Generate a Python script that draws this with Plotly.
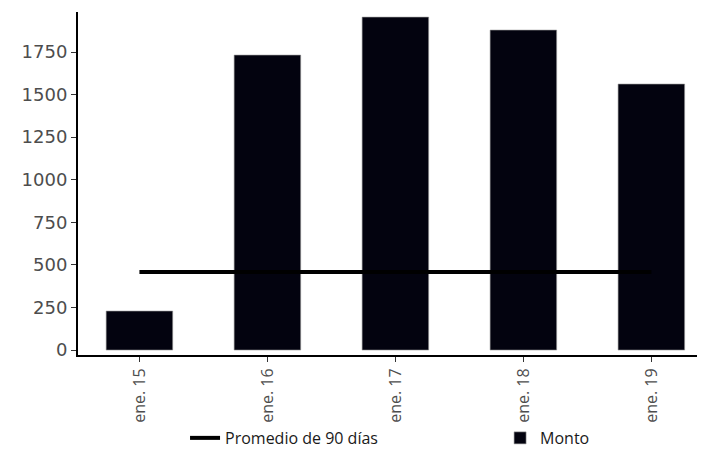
import plotly.graph_objects as go

# datos
fechas = ['ene. 15', 'ene. 16', 'ene. 17', 'ene. 18', 'ene. 19']
monto = [229, 1732, 1955, 1879, 1562]
promedio_90 = [458, 458, 458, 458, 458]

fig = go.Figure()

# barras de monto
fig.add_trace(go.Bar(
    x=fechas,
    y=monto,
    name='Monto',
    marker=dict(color='#03030f', line=dict(color='#9a9a9a', width=0.6)),
    width=0.52,
    legend='legend2'
))

# linea del promedio (encima de las barras)
fig.add_trace(go.Scatter(
    x=fechas,
    y=promedio_90,
    name='Promedio de 90 días',
    mode='lines',
    line=dict(color='black', width=4),
    legend='legend'
))

leyenda = dict(
    orientation='h',
    xref='container',
    yref='container',
    xanchor='left',
    y=0.025,
    yanchor='middle',
    bgcolor='rgba(0,0,0,0)',
    font=dict(family='Open Sans', size=16, color='#1a1a1a')
)

# la pagina tiene 8px de margen en el body, se compensa aqui
fig.update_layout(
    width=697,
    height=441,
    plot_bgcolor='white',
    paper_bgcolor='white',
    margin=dict(l=70, r=5, t=4, b=94),
    showlegend=True,
    legend=dict(leyenda, x=0.254),
    legend2=dict(leyenda, x=0.706),
    xaxis=dict(
        type='category',
        range=[-0.48, 4.38],
        automargin=False,
        showline=True,
        linecolor='black',
        linewidth=2,
        ticks='outside',
        ticklen=5,
        tickcolor='#333333',
        tickangle=-90,
        tickfont=dict(family='Open Sans', size=16, color='#4d4d4d'),
        showgrid=False
    ),
    yaxis=dict(
        range=[-29, 1985],
        automargin=False,
        tickvals=[0, 250, 500, 750, 1000, 1250, 1500, 1750],
        showline=True,
        linecolor='black',
        linewidth=2,
        ticks='outside',
        ticklen=5,
        tickcolor='#333333',
        tickfont=dict(family='DejaVu Sans', size=18, color='#4d4d4d'),
        showgrid=False,
        zeroline=False
    )
)

fig.write_html("out.html")
